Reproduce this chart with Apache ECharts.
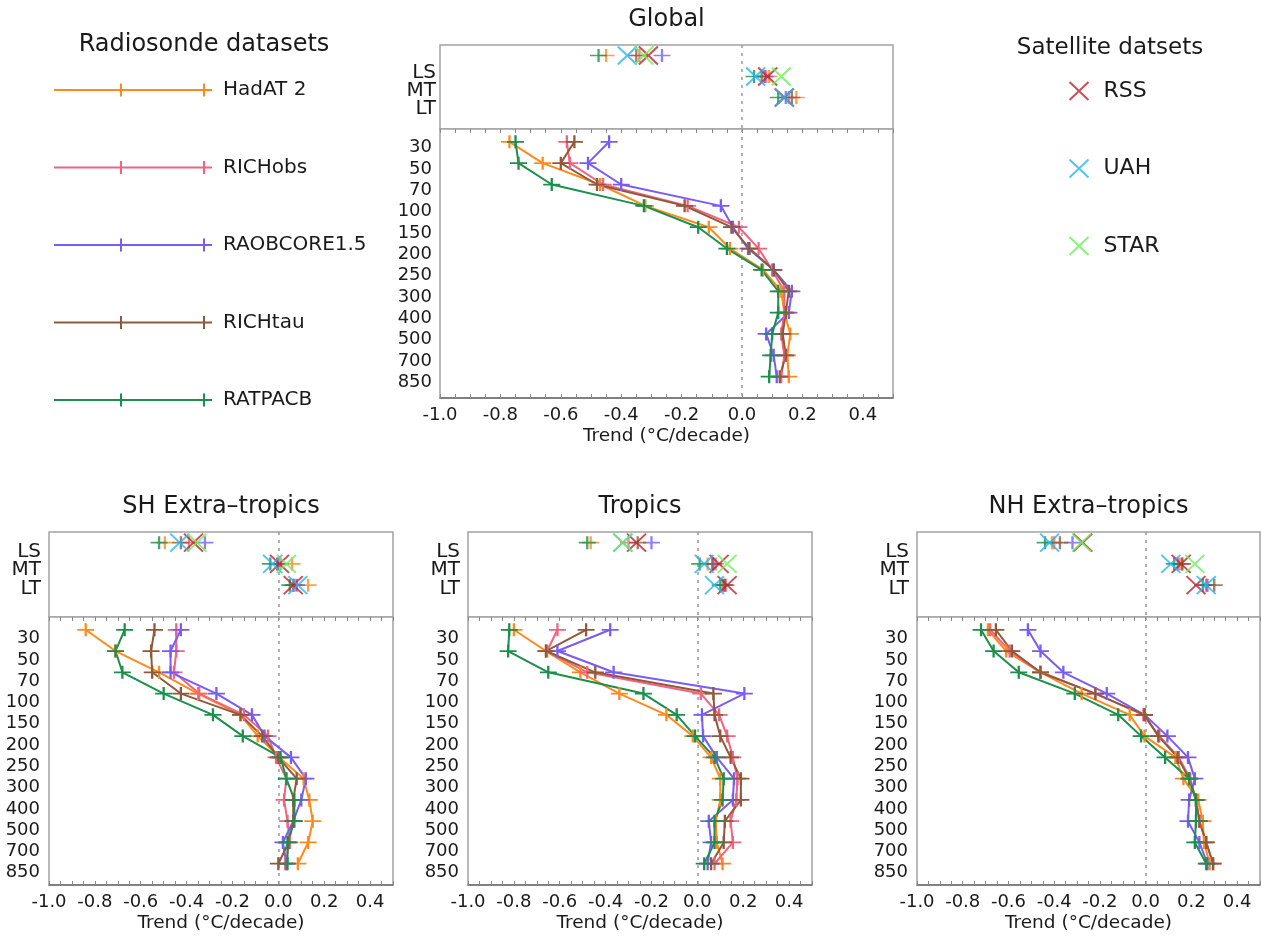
<!DOCTYPE html>
<html>
<head>
<meta charset="utf-8">
<script src="https://cdn.jsdelivr.net/npm/echarts@6/dist/echarts.min.js"></script>
<style>
html, body { margin: 0; padding: 0; background: #fff; }
#chart { width: 1262px; height: 943px; }
</style>
</head>
<body>
<div id="chart"></div>
<script>
// ---- labels ----
const levels = ['30', '50', '70', '100', '150', '200', '250', '300', '400', '500', '700', '850'];
const layers = ['LS', 'MT', 'LT'];
const xTickLabels = [-1.0, -0.8, -0.6, -0.4, -0.2, 0.0, 0.2, 0.4];
const radiosondeNames = ['HadAT 2', 'RICHobs', 'RAOBCORE1.5', 'RICHtau', 'RATPACB'];
const satelliteNames = ['RSS', 'UAH', 'STAR'];
const regionTitles = ['Global', 'SH Extra\u2013tropics', 'Tropics', 'NH Extra\u2013tropics'];

// ---- Global: trend profiles by pressure level (°C/decade) ----
const globalHadAT = [-0.77, -0.66, -0.47, -0.32, -0.11, -0.04, 0.07, 0.13, 0.14, 0.16, 0.15, 0.155];
const globalRICHobs = [-0.58, -0.57, -0.46, -0.18, -0.01, 0.055, 0.10, 0.14, 0.14, 0.13, 0.14, 0.13];
const globalRAOBCORE = [-0.44, -0.51, -0.40, -0.07, -0.03, 0.02, 0.105, 0.165, 0.155, 0.08, 0.105, 0.115];
const globalRICHtau = [-0.555, -0.60, -0.48, -0.19, -0.035, 0.025, 0.105, 0.155, 0.145, 0.135, 0.145, 0.125];
const globalRATPAC = [-0.75, -0.74, -0.63, -0.325, -0.145, -0.05, 0.065, 0.12, 0.12, 0.10, 0.095, 0.09];
// Global: layer trends [LS, MT, LT]
const globalLayerHadAT = [-0.45, 0.09, 0.18];
const globalLayerRICHobs = [-0.34, 0.08, 0.155];
const globalLayerRAOBCORE = [-0.265, 0.075, 0.145];
const globalLayerRICHtau = [-0.35, 0.065, 0.165];
const globalLayerRATPAC = [-0.475, 0.04, 0.12];
const globalLayerRSS = [-0.31, 0.085, 0.14];
const globalLayerUAH = [-0.38, 0.045, 0.14];
const globalLayerSTAR = [-0.325, 0.13, null];

// ---- SH extra-tropics ----
const shHadAT = [-0.84, -0.71, -0.52, -0.35, -0.165, -0.09, 0.005, 0.11, 0.135, 0.15, 0.13, 0.085];
const shRICHobs = [-0.445, -0.445, -0.455, -0.345, -0.15, -0.045, -0.01, 0.035, 0.025, 0.04, 0.05, 0.03];
const shRAOBCORE = [-0.425, -0.47, -0.47, -0.27, -0.115, -0.06, 0.055, 0.12, 0.10, 0.065, 0.02, 0.035];
const shRICHtau = [-0.54, -0.555, -0.55, -0.425, -0.165, -0.07, 0.0, 0.08, 0.065, 0.065, 0.045, 0.0];
const shRATPAC = [-0.67, -0.71, -0.68, -0.50, -0.285, -0.155, 0.01, 0.035, 0.07, 0.07, 0.04, 0.04];
const shLayerHadAT = [-0.495, 0.06, 0.13];
const shLayerRICHobs = [-0.39, 0.01, 0.07];
const shLayerRAOBCORE = [-0.32, 0.0, 0.08];
const shLayerRICHtau = [-0.425, -0.005, 0.065];
const shLayerRATPAC = [-0.52, -0.035, 0.05];
const shLayerRSS = [-0.37, 0.005, 0.065];
const shLayerUAH = [-0.43, -0.025, 0.085];
const shLayerSTAR = [-0.355, 0.035, null];

// ---- Tropics ----
const trHadAT = [-0.80, -0.66, -0.51, -0.34, -0.135, -0.02, 0.06, 0.10, 0.10, 0.08, 0.085, 0.11];
const trRICHobs = [-0.61, -0.655, -0.48, 0.015, 0.095, 0.13, 0.155, 0.175, 0.17, 0.145, 0.155, 0.075];
const trRAOBCORE = [-0.38, -0.61, -0.365, 0.205, 0.02, 0.025, 0.085, 0.16, 0.155, 0.05, 0.06, 0.045];
const trRICHtau = [-0.485, -0.66, -0.445, 0.07, 0.075, 0.10, 0.145, 0.19, 0.19, 0.12, 0.115, 0.06];
const trRATPAC = [-0.82, -0.825, -0.65, -0.235, -0.09, -0.01, 0.075, 0.115, 0.11, 0.075, 0.075, 0.03];
const trLayerHadAT = [-0.465, 0.045, 0.11];
const trLayerRICHobs = [-0.30, 0.08, 0.125];
const trLayerRAOBCORE = [-0.20, 0.07, 0.115];
const trLayerRICHtau = [-0.26, 0.065, 0.12];
const trLayerRATPAC = [-0.48, 0.01, 0.10];
const trLayerRSS = [-0.265, 0.095, 0.13];
const trLayerUAH = [-0.325, 0.03, 0.075];
const trLayerSTAR = [-0.325, 0.13, null];

// ---- NH extra-tropics ----
const nhHadAT = [-0.69, -0.61, -0.46, -0.28, -0.07, -0.005, 0.13, 0.165, 0.23, 0.25, 0.255, 0.28];
const nhRICHobs = [-0.68, -0.595, -0.46, -0.22, -0.01, 0.06, 0.145, 0.195, 0.22, 0.235, 0.265, 0.295];
const nhRAOBCORE = [-0.515, -0.46, -0.36, -0.17, -0.005, 0.095, 0.185, 0.215, 0.19, 0.185, 0.235, 0.27];
const nhRICHtau = [-0.655, -0.585, -0.46, -0.22, -0.005, 0.055, 0.14, 0.19, 0.22, 0.235, 0.265, 0.295];
const nhRATPAC = [-0.72, -0.665, -0.555, -0.31, -0.12, -0.02, 0.085, 0.19, 0.22, 0.22, 0.215, 0.265];
const nhLayerHadAT = [-0.41, 0.15, 0.27];
const nhLayerRICHobs = [-0.40, 0.16, 0.27];
const nhLayerRAOBCORE = [-0.32, 0.14, 0.265];
const nhLayerRICHtau = [-0.375, 0.16, 0.30];
const nhLayerRATPAC = [-0.44, 0.125, 0.25];
const nhLayerRSS = [-0.275, 0.155, 0.22];
const nhLayerUAH = [-0.42, 0.11, 0.265];
const nhLayerSTAR = [-0.28, 0.215, null];

// ---- styling ----
const FONT = 'DejaVu Sans';
const TEXT = '#1a1a1a';
const radiosondeColors = ['#ff8a1c', '#f2637f', '#7a5cf5', '#8f5a3c', '#1b8f4c'];
const satelliteColors = ['#c0222e', '#2bb5f0', '#6cf05a'];
const PLUS = 'path://M0,6.5L17,6.5M8.5,0L8.5,13';
const CROSS = 'path://M0,0L19,18M19,0L0,18';
const PLUS_LEGEND = 'path://M0,6.5L158,6.5M67,0L67,13M150,0L150,13';

const regions = [
  { profiles: [globalHadAT, globalRICHobs, globalRAOBCORE, globalRICHtau, globalRATPAC],
    layerSonde: [globalLayerHadAT, globalLayerRICHobs, globalLayerRAOBCORE, globalLayerRICHtau, globalLayerRATPAC],
    layerSat: [globalLayerRSS, globalLayerUAH, globalLayerSTAR] },
  { profiles: [shHadAT, shRICHobs, shRAOBCORE, shRICHtau, shRATPAC],
    layerSonde: [shLayerHadAT, shLayerRICHobs, shLayerRAOBCORE, shLayerRICHtau, shLayerRATPAC],
    layerSat: [shLayerRSS, shLayerUAH, shLayerSTAR] },
  { profiles: [trHadAT, trRICHobs, trRAOBCORE, trRICHtau, trRATPAC],
    layerSonde: [trLayerHadAT, trLayerRICHobs, trLayerRAOBCORE, trLayerRICHtau, trLayerRATPAC],
    layerSat: [trLayerRSS, trLayerUAH, trLayerSTAR] },
  { profiles: [nhHadAT, nhRICHobs, nhRAOBCORE, nhRICHtau, nhRATPAC],
    layerSonde: [nhLayerHadAT, nhLayerRICHobs, nhLayerRAOBCORE, nhLayerRICHtau, nhLayerRATPAC],
    layerSat: [nhLayerRSS, nhLayerUAH, nhLayerSTAR] }
];

// panel frames: layer strip on top, profile box below.
// layerLabelPos / levelLabelShift place the axis names slightly below their marker rows.
const panels = [
  { left: 440, width: 453, stripTop: 45, stripH: 84, profH: 269, titleY: 20,
    layerLabelPos: [0.8, 1.68, 2.54], layerLabelMargin: 4, levelLabelShift: 0.27, profLabelMargin: 8 },
  { left: 49, width: 344, stripTop: 532, stripH: 85, profH: 268, titleY: 507,
    layerLabelPos: [0.44, 1.3, 2.16], layerLabelMargin: 8, levelLabelShift: 0.42, profLabelMargin: 9 },
  { left: 468, width: 344, stripTop: 532, stripH: 85, profH: 268, titleY: 507,
    layerLabelPos: [0.44, 1.3, 2.16], layerLabelMargin: 8, levelLabelShift: 0.42, profLabelMargin: 9 },
  { left: 917, width: 343, stripTop: 532, stripH: 85, profH: 268, titleY: 507,
    layerLabelPos: [0.44, 1.3, 2.16], layerLabelMargin: 8, levelLabelShift: 0.42, profLabelMargin: 9 }
];

const grid = [], xAxis = [], yAxis = [], series = [], graphic = [];
const border = '#a3a3a3';

panels.forEach((p, r) => {
  const gStrip = grid.length;
  grid.push({ left: p.left, top: p.stripTop, width: p.width, height: p.stripH,
    show: true, borderColor: border, borderWidth: 1.5, backgroundColor: '#fff', outerBoundsMode: 'none' });
  const gProf = grid.length;
  grid.push({ left: p.left, top: p.stripTop + p.stripH, width: p.width, height: p.profH,
    show: true, borderColor: border, borderWidth: 1.5, backgroundColor: '#fff', outerBoundsMode: 'none' });

  // strip axes
  const xs = xAxis.length;
  xAxis.push({ type: 'value', gridIndex: gStrip, min: -1, max: 0.5, interval: 0.05,
    axisLine: { show: false, onZero: false }, axisTick: { show: false }, axisLabel: { show: false }, splitLine: { show: false } });
  // profile bottom axis
  const xp = xAxis.length;
  xAxis.push({ type: 'value', gridIndex: gProf, position: 'bottom', min: -1, max: 0.5, interval: 0.05,
    axisLine: { show: true, onZero: false, lineStyle: { color: '#6e6e6e', width: 1.5 } },
    axisTick: { show: true, inside: true, length: 4, lineStyle: { color: '#8a8a8a', width: 1 } },
    axisLabel: { show: true, customValues: xTickLabels, formatter: v => v.toFixed(1),
      showMinLabel: true, showMaxLabel: true, hideOverlap: false,
      fontFamily: FONT, fontSize: 18, color: TEXT, margin: 8 },
    splitLine: { show: false },
    name: 'Trend (\u00b0C/decade)', nameLocation: 'middle', nameGap: 29,
    nameTextStyle: { fontFamily: FONT, fontSize: 18.5, color: TEXT } });
  // profile top edge ticks
  xAxis.push({ type: 'value', gridIndex: gProf, position: 'top', min: -1, max: 0.5, interval: 0.05,
    axisLine: { show: false, onZero: false },
    axisTick: { show: true, inside: true, length: 4, lineStyle: { color: '#8a8a8a', width: 1 } },
    axisLabel: { show: false }, splitLine: { show: false } });

  // strip value axis carrying the markers
  const ys = yAxis.length;
  yAxis.push({ type: 'value', gridIndex: gStrip, position: 'left', inverse: true, min: -0.5, max: 3.5,
    axisLine: { show: false, onZero: false }, axisTick: { show: false }, splitLine: { show: false },
    axisLabel: { show: false } });
  // one label-only axis per layer name, so the closely spaced names are never thinned out
  layers.forEach((layerName, k) => {
    yAxis.push({ type: 'value', gridIndex: gStrip, position: 'left', offset: 0, inverse: true, min: -0.5, max: 3.5,
      axisLine: { show: false, onZero: false }, axisTick: { show: false }, splitLine: { show: false },
      axisLabel: { show: true, customValues: [p.layerLabelPos[k]], formatter: () => layerName,
        fontFamily: FONT, fontSize: 20, color: TEXT, margin: p.layerLabelMargin } });
  });
  const yp = yAxis.length;
  yAxis.push({ type: 'value', gridIndex: gProf, position: 'left', inverse: true, min: -0.6, max: 12,
    axisLine: { show: false, onZero: false }, axisTick: { show: false }, splitLine: { show: false },
    axisLabel: { show: true, customValues: levels.map((_, i) => i + p.levelLabelShift),
      hideOverlap: false,
      formatter: v => levels[Math.round(v - p.levelLabelShift)],
      fontFamily: FONT, fontSize: 18, color: TEXT, margin: p.profLabelMargin, lineHeight: 8 } });

  const zeroLine = {
    silent: true, symbol: 'none', z: 1,
    label: { show: false },
    lineStyle: { color: '#9a9a9a', type: [3, 5], width: 1.5 },
    data: [{ xAxis: 0 }]
  };
  series.push({ type: 'line', xAxisIndex: xs, yAxisIndex: ys, data: [], markLine: zeroLine, silent: true });
  series.push({ type: 'line', xAxisIndex: xp, yAxisIndex: yp, data: [], markLine: zeroLine, silent: true });

  const reg = regions[r];
  // radiosonde profiles
  radiosondeNames.forEach((name, d) => {
    const c = radiosondeColors[d];
    series.push({
      name, type: 'line', xAxisIndex: xp, yAxisIndex: yp, silent: true,
      data: reg.profiles[d].map((v, i) => [v, i]),
      symbol: PLUS, symbolSize: [17, 13],
      lineStyle: { color: c, width: 2 },
      itemStyle: { color: c, borderColor: c, borderWidth: 2 },
      z: 3
    });
    series.push({
      name, type: 'scatter', xAxisIndex: xs, yAxisIndex: ys, silent: true,
      data: reg.layerSonde[d].map((v, k) => [v, k]).filter(pt => pt[0] !== null),
      symbol: PLUS, symbolSize: [17, 13],
      itemStyle: { color: c, borderColor: c, borderWidth: 2 },
      z: 3
    });
  });
  // satellite layer trends
  satelliteNames.forEach((name, s) => {
    const c = satelliteColors[s];
    series.push({
      name, type: 'scatter', xAxisIndex: xs, yAxisIndex: ys, silent: true,
      data: reg.layerSat[s].map((v, k) => [v, k]).filter(pt => pt[0] !== null),
      symbol: CROSS, symbolSize: [19, 18],
      itemStyle: { color: c, borderColor: c, borderWidth: 2 },
      z: 4
    });
  });

  graphic.push({ type: 'text', x: p.left + p.width / 2, y: p.titleY, silent: true,
    style: { text: regionTitles[r], font: '24px "' + FONT + '"', fill: TEXT,
      textAlign: 'center', textVerticalAlign: 'middle' } });
});

// legend headers
graphic.push({ type: 'text', x: 204, y: 45, silent: true,
  style: { text: 'Radiosonde datasets', font: '24px "' + FONT + '"', fill: TEXT, textAlign: 'center', textVerticalAlign: 'middle' } });
graphic.push({ type: 'text', x: 1110, y: 48, silent: true,
  style: { text: 'Satellite datsets', font: '23px "' + FONT + '"', fill: TEXT, textAlign: 'center', textVerticalAlign: 'middle' } });

// one legend block per dataset so each row sits at its own height
const legend = [];
radiosondeNames.forEach((name, d) => {
  const c = radiosondeColors[d];
  legend.push({
    left: 53, top: 90 + d * 77.5 - 10, padding: 0, selectedMode: false,
    itemWidth: 158, itemHeight: 13, icon: PLUS_LEGEND,
    data: [{ name, itemStyle: { color: c, borderColor: c, borderWidth: 2 } }],
    textStyle: { fontFamily: FONT, fontSize: 20, color: TEXT, padding: [0, 0, 0, 6] }
  });
});
satelliteNames.forEach((name, s) => {
  const c = satelliteColors[s];
  legend.push({
    left: 1068.5, top: 91 + s * 77.5 - 11, padding: 0, selectedMode: false,
    itemWidth: 19, itemHeight: 18, icon: CROSS,
    data: [{ name, itemStyle: { color: c, borderColor: c, borderWidth: 2 } }],
    textStyle: { fontFamily: FONT, fontSize: 22, color: TEXT, padding: [0, 0, 0, 10] }
  });
});

const chart = echarts.init(document.getElementById('chart'), null, { renderer: 'canvas' });
chart.setOption({
  backgroundColor: '#fff',
  animation: false,
  textStyle: { fontFamily: FONT },
  grid, xAxis, yAxis, series, legend, graphic
});
</script>
</body>
</html>
